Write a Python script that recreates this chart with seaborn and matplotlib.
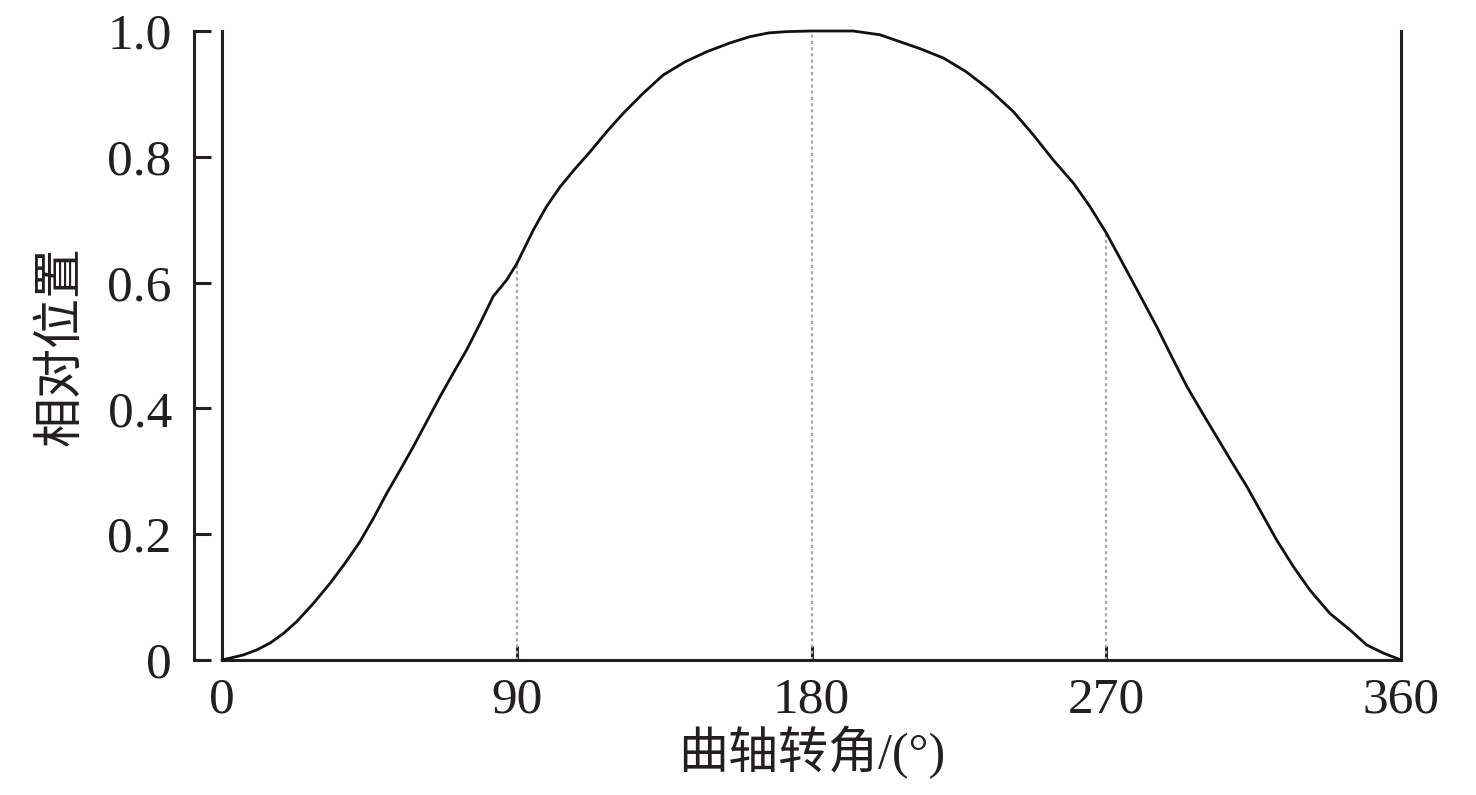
import matplotlib
matplotlib.use("Agg")
import matplotlib.pyplot as plt
import seaborn as sns
import numpy as np
import pandas as pd

# Data
crank_angle = [0, 6.5, 10.6, 14.7, 18.7, 22.8, 27.9, 33, 37.6, 42.1, 46.2, 50.3,
               54.4, 58.4, 62.5, 66.6, 70.6, 74.7, 78.8, 82.8, 86.9, 90,
               95.1, 99.1, 103.2, 107.8, 112.4, 117.5, 122.5, 128.6, 134.7,
               141.4, 148, 155.1, 161.2, 167, 172.4, 180, 186, 192.7,
               200.9, 207, 213.1, 220.3, 227.3, 234.5, 241.6, 247.7, 253.8,
               260, 265, 270, 277.3, 281.3, 285.4, 290, 294.6, 299.1, 303.7,
               308.3, 312.9, 317.5, 322, 327.2, 332.2, 338.3, 344.4, 349.5,
               354.6, 360]
rel_position = [0, 0.008, 0.016, 0.027, 0.042, 0.061, 0.090, 0.122, 0.154, 0.188,
                0.225, 0.265, 0.302, 0.339, 0.379, 0.419, 0.456, 0.493, 0.535,
                0.578, 0.604, 0.630,
                0.684, 0.721, 0.752, 0.781, 0.808, 0.840, 0.869, 0.901, 0.930,
                0.951, 0.967, 0.981, 0.991, 0.997, 0.999, 1.0, 1.0, 1.0,
                0.994, 0.983, 0.972, 0.957, 0.935, 0.906, 0.872, 0.835, 0.795,
                0.758, 0.721, 0.679, 0.609, 0.570, 0.530, 0.482, 0.435, 0.395,
                0.355, 0.315, 0.276, 0.233, 0.191, 0.148, 0.111, 0.074, 0.048,
                0.024, 0.011, 0]
marker_angles = [90, 180, 270]
x_ticks = [0, 90, 180, 270, 360]
x_ticklabels = ["0", "90", "180", "270", "360"]
y_ticks = [0, 0.2, 0.4, 0.6, 0.8, 1.0]
y_ticklabels = ["0", "0.2", "0.4", "0.6", "0.8", "1.0"]
x_label = "曲轴转角/(°)"
y_label = "相对位置"

sns.set_theme(style="white")
plt.rcParams["font.family"] = ["Liberation Serif", "Noto Sans CJK SC"]

df = pd.DataFrame({"angle": crank_angle, "pos": rel_position})
spine_c = "#231f20"

fig = plt.figure(figsize=(14.76, 7.95), dpi=100)
bottom = 1 - 660 / 795
height = (660 - 31) / 795
ax = fig.add_axes([222 / 1476, bottom, (1401 - 222) / 1476, height])
# separate y-axis, set off to the left of the plot frame
ax_y = fig.add_axes([194 / 1476, bottom, 0.5 / 1476, height], sharey=ax)

sns.lineplot(data=df, x="angle", y="pos", ax=ax, color="#111111", lw=2.0,
             clip_on=False, zorder=4)

# dotted guide lines from axis to curve
marker_vals = [float(np.interp(a, crank_angle, rel_position)) for a in marker_angles]
ax.vlines(marker_angles, 0, marker_vals, colors="#a8a8a8",
          linestyles=(0, (1.4, 1.4)), lw=1.6, zorder=1)

ax.set_xlim(0, 360)
ax.set_ylim(0, 1)

# main frame: left, bottom, right lines
for s in ["left", "right", "bottom"]:
    sp = ax.spines[s]
    sp.set_visible(True)
    sp.set_color(spine_c)
    sp.set_linewidth(2.2)
ax.spines["top"].set_visible(False)
ax.set_xticks(x_ticks)
ax.set_xticklabels(x_ticklabels)
ax.tick_params(axis="x", direction="in", length=10, width=2.2, color=spine_c,
               labelsize=37, pad=12, labelcolor="#231f20", bottom=True, top=False)
ax.tick_params(axis="y", left=False, right=False, labelleft=False)
ax.set_xlabel(x_label, fontsize=36, color="#231f20", labelpad=2)
ax.set_ylabel("")
ax.grid(False)

# y-axis
ax_y.patch.set_alpha(0)
for s in ["top", "right", "bottom"]:
    ax_y.spines[s].set_visible(False)
ax_y.spines["left"].set_visible(True)
ax_y.spines["left"].set_color(spine_c)
ax_y.spines["left"].set_linewidth(2.2)
ax_y.set_xticks([])
ax_y.set_yticks(y_ticks)
ax_y.set_yticklabels(y_ticklabels)
ax_y.tick_params(axis="y", direction="in", length=12, width=2.2, color=spine_c,
                 labelsize=37, pad=16, labelcolor="#231f20", left=True, right=False,
                 labelleft=True)
ax_y.set_ylabel(y_label, fontsize=36, color="#231f20", labelpad=16)
ax_y.grid(False)

fig.savefig("out.png", dpi=100, facecolor="white")
